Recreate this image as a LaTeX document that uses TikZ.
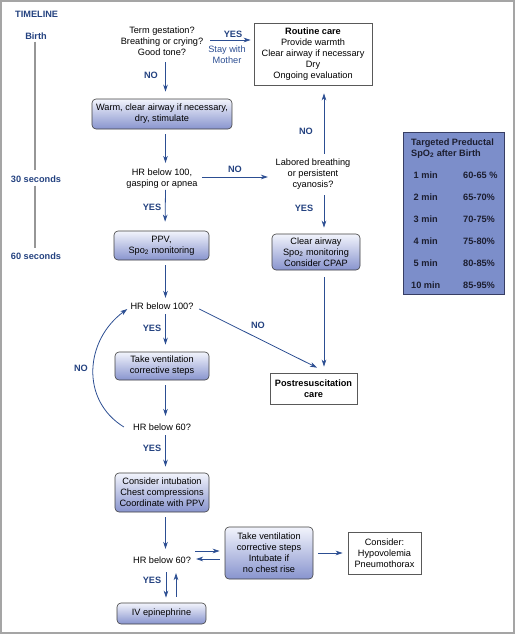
\documentclass[tikz,border=0pt]{standalone}
\usepackage{fontspec}
\setmainfont{Liberation Sans}
\usetikzlibrary{arrows.meta}
\definecolor{lblue}{RGB}{36,66,128}
\definecolor{ablue}{RGB}{44,78,146}
\definecolor{boxbot}{RGB}{136,148,206}
\definecolor{boxtop}{RGB}{242,244,252}
\definecolor{tabfill}{RGB}{124,142,202}
\definecolor{tabline}{RGB}{55,62,100}
\definecolor{framec}{RGB}{165,165,165}
\definecolor{tlinec}{RGB}{150,150,150}
\definecolor{tabtext}{RGB}{28,30,48}
\begin{document}
\begin{tikzpicture}[x=1pt,y=-1pt,
  every node/.style={font=\fontsize{9.2}{11}\selectfont, align=center, inner sep=1pt},
  lab/.style={text=lblue, font=\fontsize{9.2}{11}\selectfont\bfseries},
  slab/.style={text=ablue},
  arr/.style={draw=ablue, line width=0.8pt, -{Stealth[length=7pt,width=4.6pt,inset=2pt]}},
  gbox/.style={draw=black!75, rounded corners=4pt, top color=boxtop, bottom color=boxbot, line width=0.6pt, inner sep=0pt},
  wbox/.style={draw=black!65, fill=white, line width=0.7pt, inner sep=0pt},
  tlstyle/.style={draw=tlinec, line width=1.8pt},
  tt/.style={text=tabtext, font=\fontsize{9.2}{11}\selectfont\bfseries, anchor=west}
]
\useasboundingbox (0,0) rectangle (515,634);
\draw[framec, line width=2pt] (1,1) rectangle (514,633);

% timeline
\node[lab, anchor=west] (tltitle) at (14,14) {TIMELINE};
\node[lab] (tbirth) at (36,36) {Birth};
\node[lab] (t30) at (36,179) {30 seconds};
\node[lab] (t60) at (36,256) {60 seconds};
\draw[tlstyle, shorten <=1pt, shorten >=4pt] ([xshift=-1pt]tbirth.south) -- ([xshift=-1pt]t30.north);
\draw[tlstyle, shorten <=2pt, shorten >=3pt] ([xshift=-1pt]t30.south) -- ([xshift=-1pt]t60.north);

% questions
\node (q1) at (162,41) {Term gestation?\\Breathing or crying?\\Good tone?};
\node (q2) at (162,179) {HR below 100,\\gasping or apnea};
\node (q3) at (313,174.5) {Labored breathing\\or persistent\\cyanosis?};
\node (q4) at (162,306) {HR below 100?};
\node (q5) at (162,427) {HR below 60?};
\node (q6) at (162,560) {HR below 60?};

% boxes
\node[wbox, minimum width=118, minimum height=62] (routine) at (313,54) {\textbf{Routine care}\\Provide warmth\\Clear airway if necessary\\Dry\\Ongoing evaluation};
\node[gbox, minimum width=140, minimum height=30] (warm) at (162,114) {Warm, clear airway if necessary,\\dry, stimulate};
\node[gbox, minimum width=95, minimum height=29] (ppv) at (161.5,245.5) {PPV,\\Spo\textsubscript{2} monitoring};
\node[gbox, minimum width=88, minimum height=36] (clear) at (316,252) {Clear airway\\Spo\textsubscript{2} monitoring\\Consider CPAP};
\node[wbox, minimum width=87, minimum height=31] (postres) at (313.5,388.5) {\textbf{Postresuscitation}\\\textbf{care}};
\node[gbox, minimum width=94, minimum height=28] (tv) at (162,366) {Take ventilation\\corrective steps};
\node[gbox, minimum width=94, minimum height=39] (ci) at (162,492.5) {Consider intubation\\Chest compressions\\Coordinate with PPV};
\node[gbox, minimum width=88, minimum height=52] (tv2) at (269,553) {Take ventilation\\corrective steps\\Intubate if\\no chest rise};
\node[wbox, minimum width=73, minimum height=42] (consider) at (384.5,553) {Consider:\\Hypovolemia\\Pneumothorax};
\node[gbox, minimum width=89, minimum height=21] (iv) at (161.5,613.5) {IV epinephrine};

% table
\node[draw=tabline, fill=tabfill, line width=0.8pt, minimum width=101, minimum height=162, inner sep=0pt] (tab) at (453.5,213) {};
\node[tt] (th1) at (410,143) {Targeted Preductal};
\node[tt] (th2) at (410,154) {SpO\textsubscript{2} after Birth};
\node[tt] (r1a) at (412.5,175) {1 min};
\node[tt] (r1b) at (462,175) {60-65 \%};
\node[tt] (r2a) at (412.5,197) {2 min};
\node[tt] (r2b) at (462,197) {65-70\%};
\node[tt] (r3a) at (412.5,219) {3 min};
\node[tt] (r3b) at (462,219) {70-75\%};
\node[tt] (r4a) at (412.5,241) {4 min};
\node[tt] (r4b) at (462,241) {75-80\%};
\node[tt] (r5a) at (412.5,263) {5 min};
\node[tt] (r5b) at (462,263) {80-85\%};
\node[tt] (r6a) at (410,285) {10 min};
\node[tt] (r6b) at (462,285) {85-95\%};

% connectors
\draw[arr, shorten <=6pt, shorten >=3pt] ([yshift=1pt]q1.east) -- ([yshift=1pt]q1.east -| routine.west);
\node[lab] (yes1) at (233,34) {YES};
\node[slab] (stay) at (227,54.5) {Stay with\\Mother};

\draw[arr, shorten <=5.5pt, shorten >=7pt] ([xshift=3.5pt]q1.south) -- ([xshift=3.5pt]warm.north);
\node[lab] (no1) at (151,75) {NO};
\draw[arr, shorten <=5pt, shorten >=5pt] ([xshift=3.5pt]warm.south) -- ([xshift=3.5pt]q2.north);
\draw[arr, shorten <=0pt, shorten >=9pt] ([xshift=3.5pt]q2.south) -- ([xshift=3.5pt]ppv.north);
\node[lab] (yes2) at (152,207) {YES};
\draw[arr, shorten <=3pt, shorten >=6.5pt] ([yshift=2pt]q2.east) -- ([yshift=2pt]q2.east -| q3.west);
\node[lab] (no2) at (235,169) {NO};
\draw[arr, shorten <=4.5pt, shorten >=8pt] ([xshift=11pt]q3.north) -- ([xshift=11pt]q3.north |- routine.south);
\node[lab] (no3) at (306,131) {NO};
\draw[arr, shorten <=4.5pt, shorten >=6pt] ([xshift=11pt]q3.south) -- ([xshift=11pt]q3.south |- clear.north);
\node[lab] (yes3) at (304,208) {YES};
\draw[arr, shorten <=7pt, shorten >=6pt] ([xshift=8pt]clear.south) -- ([xshift=8pt]clear.south |- postres.north);

\draw[arr, shorten <=5pt, shorten >=3.5pt] ([xshift=4pt]ppv.south) -- ([xshift=3.5pt]q4.north);
\draw[arr, shorten <=3.5pt, shorten >=7pt] ([xshift=3.5pt]q4.south) -- ([xshift=3.5pt]tv.north);
\node[lab] (yes4) at (152,328) {YES};
\draw[arr] ([shift={(4.5pt,-3pt)}]q4.east) -- ([shift={(3.5pt,5pt)}]postres.north);
\node[lab] (no4) at (258,325) {NO};
\draw[arr, shorten <=5pt, shorten >=6.5pt] ([xshift=3.5pt]tv.south) -- ([xshift=3.5pt]q5.north);
\draw[arr] ([xshift=-8pt]q5.west) .. controls (80,400) and (85,340) .. ([shift={(-2pt,-3pt)}]q4.west);
\node[lab] (no5) at (81,368) {NO};
\draw[arr, shorten <=3.5pt, shorten >=6pt] ([xshift=3.5pt]q5.south) -- ([xshift=3.5pt]ci.north);
\node[lab] (yes5) at (152,448) {YES};
\draw[arr, shorten <=5pt, shorten >=6.5pt] ([xshift=3.5pt]ci.south) -- ([xshift=3.5pt]q6.north);

\draw[arr] ([shift={(3pt,9pt)}]q6.east) -- ([shift={(-5pt,2pt)}]tv2.west);
\draw[arr] ([shift={(-5pt,-6pt)}]tv2.west) -- ([shift={(4pt,1pt)}]q6.east);
\draw[arr, shorten <=5pt, shorten >=5pt] (tv2.east) -- (tv2.east -| consider.west);

\draw[arr, shorten <=7.5pt, shorten >=5pt] ([xshift=4pt]q6.south) -- ([xshift=4.5pt]iv.north);
\node[lab] (yes6) at (152,580) {YES};
\draw[arr, shorten <=6pt, shorten >=8.5pt] ([xshift=14.5pt]iv.north) -- ([xshift=14pt]q6.south);
\end{tikzpicture}
\end{document}
